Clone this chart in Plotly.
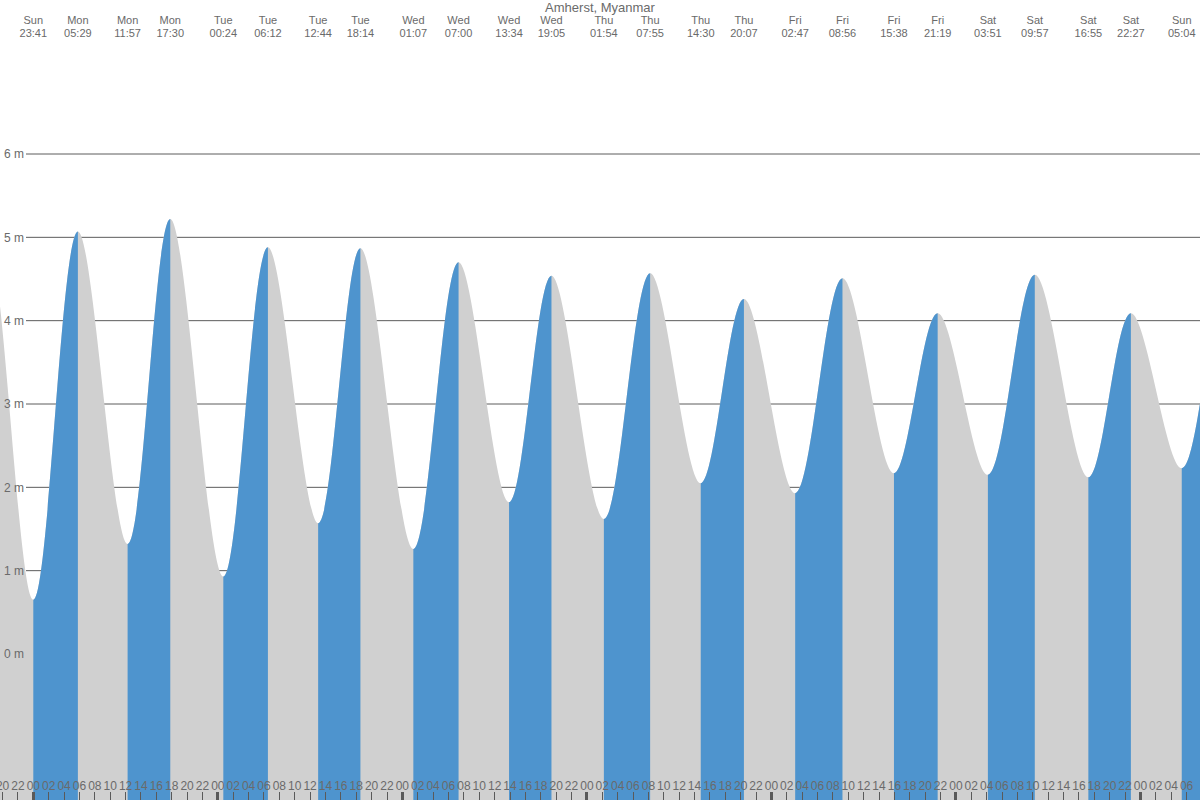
import plotly.graph_objects as go

# ---------------- data ----------------
TITLE = "Amherst, Myanmar"

# tide extremes (first two and last two lie outside the visible window; estimated, used only for the curve edges)
ext_day = ["Sun", "Sun", "Sun",
           "Mon", "Mon", "Mon",
           "Tue", "Tue", "Tue", "Tue",
           "Wed", "Wed", "Wed", "Wed",
           "Thu", "Thu", "Thu", "Thu",
           "Fri", "Fri", "Fri", "Fri",
           "Sat", "Sat", "Sat", "Sat",
           "Sun", "Sun", "Sun"]
ext_time = ["11:20", "17:35", "23:41",
            "05:29", "11:57", "17:30",
            "00:24", "06:12", "12:44", "18:14",
            "01:07", "07:00", "13:34", "19:05",
            "01:54", "07:55", "14:30", "20:07",
            "02:47", "08:56", "15:38", "21:19",
            "03:51", "09:57", "16:55", "22:27",
            "05:04", "10:55", "17:20"]
ext_height = [1.40, 5.00, 0.65,
              5.07, 1.32, 5.22,
              0.93, 4.88, 1.57, 4.87,
              1.26, 4.70, 1.82, 4.54,
              1.62, 4.57, 2.05, 4.26,
              1.93, 4.51, 2.17, 4.09,
              2.15, 4.55, 2.12, 4.09,
              2.23, 4.50, 2.30]

FIRST_DAY_NUMBER = -1  # the first listed Sunday is the day before Monday 00:00

y_tick_vals = [0, 1, 2, 3, 4, 5, 6]
y_tick_suffix = " m"
hour_tick_hours = list(range(-24, 24 * 8, 2))
hour_tick_text = [f"{h % 24:02d}" for h in hour_tick_hours]
midnight_hours = list(range(-24, 24 * 8, 24))

# ---------------- style / layout ----------------
TOP = 27
PLOT_H = 800 - TOP
X_RANGE = [-4.648, 151.44]
Y_RANGE = [-1.752, 7.524]
TICK_OFFSET = -0.31
BLUE = "#4e94ce"
GREY = "#d0d0d0"
TEXT = "#6a6a6a"
GRID = "#5c5c5c"
TICKC = "#5a5a5a"
FONT = "Liberation Sans, Arial, sans-serif"
FLOOR = Y_RANGE[0] - 1
SMOOTH = 1.0
GRID_X0 = 26 / 1200
Y_LABEL_X = 24 / 1200
HOUR_LABEL_POS = 23 / PLOT_H   # paper-y of the (hidden) line the hour labels hang from

# hours since Monday 00:00
ext_hours = []
day_num = FIRST_DAY_NUMBER
prev = None
for d, tm in zip(ext_day, ext_time):
    if prev is not None and d != prev:
        day_num += 1
    prev = d
    hh, mm = tm.split(":")
    ext_hours.append(day_num * 24 + int(hh) + int(mm) / 60)


def frac(t):
    return (t - X_RANGE[0]) / (X_RANGE[1] - X_RANGE[0])


fig = go.Figure()
common = dict(mode="lines", hoverinfo="skip", showlegend=False)

# grey: whole curve
fig.add_trace(go.Scatter(x=[ext_hours[0], ext_hours[-1]], y=[FLOOR, FLOOR],
                         line=dict(width=0), **common))
fig.add_trace(go.Scatter(x=ext_hours, y=ext_height,
                         line=dict(width=0, shape="spline", smoothing=SMOOTH),
                         fill="tonexty", fillcolor=GREY, **common))

layout_axes = {}
axis_n = 2
# blue: rising segments, each clipped by its own x-axis domain
for i in range(1, len(ext_hours) - 2):
    t0, t1 = ext_hours[i], ext_hours[i + 1]
    if ext_height[i + 1] <= ext_height[i]:
        continue
    lo, hi = max(t0, X_RANGE[0]), min(t1, X_RANGE[1])
    if hi <= lo:
        continue
    ax = f"x{axis_n}"
    layout_axes[f"xaxis{axis_n}"] = dict(domain=[frac(lo), frac(hi)], range=[lo, hi],
                                         anchor="y", visible=False, fixedrange=True,
                                         automargin=False)
    sx = ext_hours[i - 1:i + 3]
    sy = ext_height[i - 1:i + 3]
    fig.add_trace(go.Scatter(x=[sx[0], sx[-1]], y=[FLOOR, FLOOR], xaxis=ax, yaxis="y",
                             line=dict(width=0), **common))
    fig.add_trace(go.Scatter(x=sx, y=sy, xaxis=ax, yaxis="y",
                             line=dict(width=0, shape="spline", smoothing=SMOOTH),
                             fill="tonexty", fillcolor=BLUE, **common))
    axis_n += 1

n_tick, n_mid, n_lab, n_day, n_time = range(axis_n, axis_n + 5)
for n in (n_tick, n_mid, n_lab, n_day, n_time):
    fig.add_trace(go.Scatter(x=[], y=[], xaxis=f"x{n}", yaxis="y", **common))

base_ax = dict(domain=[0, 1], range=X_RANGE, tickmode="array", automargin=False,
               showgrid=False, zeroline=False, showline=False, fixedrange=True)

# thin 2-hourly ticks
layout_axes[f"xaxis{n_tick}"] = dict(
    base_ax, anchor="y", side="bottom",
    tickvals=[h + TICK_OFFSET for h in hour_tick_hours],
    ticks="inside", ticklen=8, tickwidth=1, tickcolor=TICKC, showticklabels=False)
# thick midnight ticks
layout_axes[f"xaxis{n_mid}"] = dict(
    base_ax, anchor="y", side="bottom",
    tickvals=[h + TICK_OFFSET for h in midnight_hours],
    ticks="inside", ticklen=8, tickwidth=3, tickcolor=TICKC, showticklabels=False)
# hour labels, hanging below a free axis placed just above the ticks
layout_axes[f"xaxis{n_lab}"] = dict(
    base_ax, anchor="free", position=HOUR_LABEL_POS, side="bottom",
    tickvals=[h + TICK_OFFSET for h in hour_tick_hours], ticktext=hour_tick_text,
    ticks="", tickangle=0, ticklabeloverflow="allow",
    tickfont=dict(size=12, color=TEXT, family=FONT))
# top: day names above the plot top, times hanging below it
layout_axes[f"xaxis{n_day}"] = dict(
    base_ax, anchor="y", side="top",
    tickvals=ext_hours, ticktext=ext_day,
    ticks="", ticklabeloverflow="allow", tickangle=0,
    tickfont=dict(size=11, color=TEXT, family=FONT))
layout_axes[f"xaxis{n_time}"] = dict(
    base_ax, anchor="free", position=1, side="bottom",
    tickvals=ext_hours, ticktext=ext_time,
    ticks="", ticklabeloverflow="allow", tickangle=0, ticklabelstandoff=-2,
    tickfont=dict(size=11, color=TEXT, family=FONT))

shapes = [dict(type="line", xref="paper", x0=GRID_X0, x1=1, yref="y", y0=v, y1=v,
               line=dict(color=GRID, width=1), layer="below") for v in y_tick_vals]

fig.update_layout(
    width=1200, height=800, autosize=False,
    margin=dict(l=0, r=0, t=TOP, b=0, pad=0, autoexpand=False),
    paper_bgcolor="white", plot_bgcolor="rgba(0,0,0,0)",
    title=dict(text=TITLE, x=0.5, xanchor="center", y=0.996, yanchor="top",
               font=dict(size=13, color=TEXT, family=FONT), automargin=False),
    xaxis=dict(domain=[0, 1], range=X_RANGE, visible=False, fixedrange=True, automargin=False),
    yaxis=dict(domain=[0, 1], range=Y_RANGE, tickmode="array", tickvals=y_tick_vals,
               ticktext=[f"{v}{y_tick_suffix}" for v in y_tick_vals],
               anchor="free", position=Y_LABEL_X, side="left",
               ticks="", showgrid=False, zeroline=False,
               showline=False, fixedrange=True, automargin=False,
               tickfont=dict(size=12, color=TEXT, family=FONT)),
    shapes=shapes,
    hovermode=False,
    **layout_axes,
)

fig.write_html("out.html", config={"displayModeBar": False},
               post_script="document.body.style.margin='0';")
